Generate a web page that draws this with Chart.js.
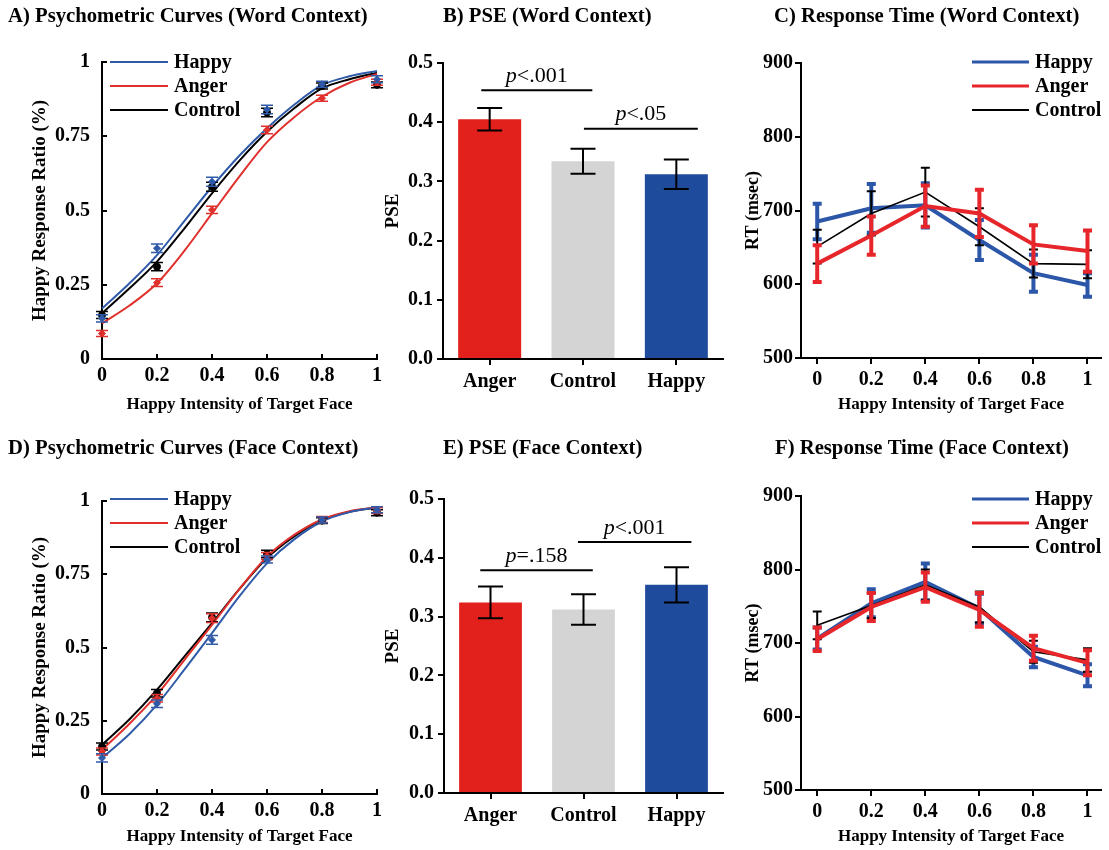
<!DOCTYPE html>
<html><head><meta charset="utf-8">
<script src="https://cdn.jsdelivr.net/npm/chart.js@4.4.0/dist/chart.umd.min.js"></script>
<style>
html,body{margin:0;padding:0;background:#fff;}
#wrap{position:relative;width:1109px;height:850px;overflow:hidden;background:#fff;}
#wrap canvas{position:absolute;left:0;top:0;}
</style></head><body><div id="wrap">
<canvas id="cA" width="1109" height="850"></canvas>
<canvas id="cB" width="1109" height="850"></canvas>
<canvas id="cC" width="1109" height="850"></canvas>
<canvas id="cD" width="1109" height="850"></canvas>
<canvas id="cE" width="1109" height="850"></canvas>
<canvas id="cF" width="1109" height="850"></canvas>
</div>
<script>
// ================= DATA =================
const intensityTicks = [0, 0.2, 0.4, 0.6, 0.8, 1];
const curveGrid = [0, 0.1, 0.2, 0.3, 0.4, 0.5, 0.6, 0.7, 0.8, 0.9, 1];
const ratioTicks = [0, 0.25, 0.5, 0.75, 1];
const pseTicks = [0, 0.1, 0.2, 0.3, 0.4, 0.5];
const rtTicks = [500, 600, 700, 800, 900];
const legendOrder = ['Happy', 'Anger', 'Control'];
const pseCategories = ['Anger', 'Control', 'Happy'];

// A) Psychometric curves, word context: observed means and SEM
const wordHappyObs = [0.137, 0.373, 0.597, 0.840, 0.925, 0.942];
const wordHappySem = [0.012, 0.014, 0.015, 0.014, 0.010, 0.012];
const wordAngerObs = [0.086, 0.257, 0.502, 0.771, 0.878, 0.932];
const wordAngerSem = [0.010, 0.013, 0.012, 0.013, 0.010, 0.010];
const wordControlObs = [0.148, 0.311, 0.580, 0.830, 0.919, 0.923];
const wordControlSem = [0.012, 0.014, 0.015, 0.014, 0.010, 0.010];
// A) fitted curves read at curveGrid
const wordHappyFit = [0.170, 0.255, 0.350, 0.465, 0.580, 0.685, 0.777, 0.857, 0.922, 0.952, 0.970];
const wordAngerFit = [0.120, 0.180, 0.255, 0.365, 0.490, 0.615, 0.730, 0.815, 0.883, 0.930, 0.960];
const wordControlFit = [0.154, 0.238, 0.328, 0.440, 0.558, 0.668, 0.765, 0.845, 0.911, 0.942, 0.964];

// B) PSE, word context
const pseWord = [0.405, 0.334, 0.312];
const pseWordSem = [0.019, 0.021, 0.025];
const pseWordSigFrom = [-0.09, 1.01];
const pseWordSigTo = [1.10, 2.23];
const pseWordSigLevel = [0.454, 0.389];
const pseWordSigText = ['<.001', '<.05'];

// C) Response time, word context
const rtWordHappy = [685, 703, 707, 660, 615, 599];
const rtWordHappySem = [24, 33, 30, 27, 25, 16];
const rtWordAnger = [628, 666, 706, 696, 654, 645];
const rtWordAngerSem = [25, 26, 28, 32, 26, 28];
const rtWordControl = [651, 696, 725, 678, 628, 627];
const rtWordControlSem = [23, 30, 33, 25, 19, 19];

// D) Psychometric curves, face context
const faceHappyObs = [0.123, 0.308, 0.526, 0.800, 0.935, 0.970];
const faceHappySem = [0.014, 0.013, 0.015, 0.012, 0.010, 0.010];
const faceAngerObs = [0.145, 0.327, 0.600, 0.812, 0.937, 0.967];
const faceAngerSem = [0.012, 0.013, 0.015, 0.012, 0.010, 0.010];
const faceControlObs = [0.162, 0.344, 0.603, 0.819, 0.933, 0.960];
const faceControlSem = [0.012, 0.013, 0.015, 0.013, 0.010, 0.010];
const faceHappyFit = [0.123, 0.205, 0.305, 0.425, 0.549, 0.675, 0.787, 0.870, 0.930, 0.962, 0.978];
const faceAngerFit = [0.151, 0.240, 0.339, 0.458, 0.577, 0.700, 0.810, 0.885, 0.937, 0.965, 0.978];
const faceControlFit = [0.168, 0.255, 0.356, 0.470, 0.583, 0.700, 0.805, 0.880, 0.935, 0.963, 0.978];

// E) PSE, face context
const pseFace = [0.324, 0.312, 0.354];
const pseFaceSem = [0.027, 0.026, 0.030];
const pseFaceSigFrom = [-0.11, 0.94];
const pseFaceSigTo = [1.10, 2.16];
const pseFaceSigLevel = [0.379, 0.427];
const pseFaceSigText = ['=.158', '<.001'];

// F) Response time, face context
const rtFaceHappy = [706, 754, 783, 747, 681, 656];
const rtFaceHappySem = [15, 19, 25, 20, 14, 15];
const rtFaceAnger = [705, 749, 776, 745, 693, 673];
const rtFaceAngerSem = [16, 19, 20, 23, 17, 17];
const rtFaceControl = [724, 751, 779, 749, 688, 677];
const rtFaceControlSem = [19, 17, 21, 21, 15, 16];

// ================= STYLE =================
const SERIF = "'Liberation Serif','Times New Roman',serif";
const BLACK = '#000000';
const CURVE_COL = { Happy: '#2f5aa8', Anger: '#e0302c', Control: '#000000' };
const RT_COL = { Happy: '#2c56a8', Anger: '#e6262a', Control: '#000000' };
const BAR_COL = { Anger: '#e3211c', Control: '#d4d4d4', Happy: '#1f4b9c' };
const CW = 1109, CH = 850;

Chart.defaults.font.family = SERIF;

const numFmt = v => String(+Number(v).toFixed(2));
const oneDec = v => Number(v).toFixed(1);

function fixBox(axis, size) {
  return function (s) {
    if (axis === 'y') s.width = size; else s.height = size;
    s.paddingTop = 0; s.paddingBottom = 0; s.paddingLeft = 0; s.paddingRight = 0;
  };
}
function layoutFor(area, yW, xH) {
  return { padding: { left: area.l - yW, top: area.t, right: CW - area.r, bottom: CH - area.b - xH } };
}
function axis(o) {
  const a = {
    type: o.type || 'linear', position: o.pos,
    ticks: { font: { family: SERIF, weight: 'bold', size: 20, lineHeight: 1 }, color: BLACK, padding: o.pad, maxRotation: 0, autoSkip: false },
    grid: { drawOnChartArea: false, drawTicks: true, tickLength: (o.tl === undefined ? 6 : o.tl), color: BLACK, lineWidth: 2, offset: false },
    border: { display: true, color: BLACK, width: 2 },
    title: { display: !!o.title, text: o.title || '', font: { family: SERIF, weight: 'bold', size: o.titleSize || 18, lineHeight: 1 }, color: BLACK, padding: 0 },
    afterFit: fixBox(o.pos === 'left' ? 'y' : 'x', o.size)
  };
  if (a.type === 'linear') {
    a.min = o.min; a.max = o.max;
    a.afterBuildTicks = s => { s.ticks = o.ticks.map(v => ({ value: v })); };
    a.ticks.callback = o.fmt;
  } else {
    a.offset = true;
  }
  return a;
}

// ================= PLUGINS =================
const errorBars = {
  id: 'errorBars',
  afterDatasetDraw(chart, args) {
    const ds = chart.data.datasets[args.index];
    if (!ds.errors) return;
    const meta = args.meta;
    const ys = chart.scales[meta.yAxisID];
    const ctx = chart.ctx;
    ctx.save();
    ctx.strokeStyle = ds.errorColor || ds.borderColor;
    ctx.lineWidth = ds.errorWidth || 1.5;
    ctx.lineCap = 'butt';
    const hw = (ds.capWidth || 10) / 2;
    meta.data.forEach((el, i) => {
      const v = meta.controller.getParsed(i).y;
      const e = ds.errors[i];
      const x = el.x;
      const yT = ys.getPixelForValue(v + e), yB = ys.getPixelForValue(v - e);
      ctx.beginPath();
      ctx.moveTo(x, yT); ctx.lineTo(x, yB);
      ctx.moveTo(x - hw, yT); ctx.lineTo(x + hw, yT);
      ctx.moveTo(x - hw, yB); ctx.lineTo(x + hw, yB);
      ctx.stroke();
    });
    ctx.restore();
  }
};

function titlePlugin(text, x, y) {
  return {
    id: 'panelTitle',
    afterDraw(chart) {
      const c = chart.ctx; c.save();
      c.font = `bold 20.7px ${SERIF}`; c.fillStyle = BLACK;
      c.textAlign = 'left'; c.textBaseline = 'middle';
      c.fillText(text, x, y); c.restore();
    }
  };
}

function legendPlugin(x1, x2, tx, y0, gap) {
  return {
    id: 'lineLegend',
    afterDraw(chart) {
      const c = chart.ctx; c.save();
      legendOrder.forEach((lab, i) => {
        const ds = chart.data.datasets.find(d => d.label === lab && d.inLegend);
        if (!ds) return;
        const y = y0 + i * gap;
        c.strokeStyle = ds.borderColor; c.lineWidth = ds.legendWidth || ds.borderWidth;
        c.beginPath(); c.moveTo(x1, y); c.lineTo(x2, y); c.stroke();
        c.font = `bold 20px ${SERIF}`; c.fillStyle = BLACK;
        c.textAlign = 'left'; c.textBaseline = 'middle';
        c.fillText(lab, tx, y + 1);
      });
      c.restore();
    }
  };
}

function sigPlugin(from, to, level, texts, textOffset) {
  return {
    id: 'sigBrackets',
    afterDatasetsDraw(chart) {
      const c = chart.ctx, xs = chart.scales.x, ys = chart.scales.y;
      c.save();
      from.forEach((f, i) => {
        const x1 = xs.getPixelForValue(f), x2 = xs.getPixelForValue(to[i]);
        const y = ys.getPixelForValue(level[i]);
        c.strokeStyle = BLACK; c.lineWidth = 2;
        c.beginPath(); c.moveTo(x1, y); c.lineTo(x2, y); c.stroke();
        const pf = `italic 22px ${SERIF}`, rf = `22px ${SERIF}`;
        c.font = pf; const wp = c.measureText('p').width;
        c.font = rf; const wr = c.measureText(texts[i]).width;
        let x = (x1 + x2) / 2 - (wp + wr) / 2;
        const ty = y - textOffset;
        c.fillStyle = BLACK; c.textBaseline = 'middle'; c.textAlign = 'left';
        c.font = pf; c.fillText('p', x, ty);
        c.font = rf; c.fillText(texts[i], x + wp, ty);
      });
      c.restore();
    }
  };
}

const baseOpts = {
  responsive: false, animation: false, devicePixelRatio: 1, events: [],
};

// ================= BUILDERS =================
function fitDs(label, ys, color) {
  return { label, inLegend: true, data: curveGrid.map((x, i) => ({ x, y: ys[i] })),
    borderColor: color, backgroundColor: color, borderWidth: 2, pointRadius: 0,
    cubicInterpolationMode: 'monotone', fill: false, clip: false };
}
function obsDs(label, ys, sem, color, style) {
  return { label: label + ' (observed)', data: intensityTicks.map((x, i) => ({ x, y: ys[i] })),
    showLine: false, borderColor: color, backgroundColor: color, pointStyle: style,
    pointRadius: 3.5, pointBorderWidth: 1, errors: sem, errorWidth: 1.5, capWidth: 12, clip: false };
}
function rtDs(label, ys, sem, color, width, errW, order) {
  return { label, inLegend: true, data: intensityTicks.map((x, i) => ({ x, y: ys[i] })),
    borderColor: color, backgroundColor: color, borderWidth: width, pointRadius: 0, tension: 0,
    errors: sem, errorWidth: errW, capWidth: 9, order, clip: false, fill: false,
    legendWidth: width >= 3 ? 3 : 2 };
}

function psychChart(id, area, title, ty, fits, obs, legendY) {
  const yW = 71.5, xH = area.xH;
  return new Chart(document.getElementById(id), {
    type: 'line',
    data: { datasets: [
      obsDs('Happy', obs.h, obs.hs, CURVE_COL.Happy, 'rectRot'),
      obsDs('Anger', obs.a, obs.as, CURVE_COL.Anger, 'rectRot'),
      obsDs('Control', obs.c, obs.cs, CURVE_COL.Control, 'circle'),
      fitDs('Happy', fits.h, CURVE_COL.Happy),
      fitDs('Anger', fits.a, CURVE_COL.Anger),
      fitDs('Control', fits.c, CURVE_COL.Control)
    ] },
    options: Object.assign({}, baseOpts, {
      layout: layoutFor(area, yW, xH),
      plugins: { legend: { display: false }, tooltip: { enabled: false } },
      scales: {
        x: axis({ pos: 'bottom', min: 0, max: 1, ticks: intensityTicks, fmt: numFmt, pad: 12, tl: -5, size: xH, title: 'Happy Intensity of Target Face', titleSize: 17 }),
        y: axis({ pos: 'left', min: 0, max: 1, ticks: ratioTicks, fmt: numFmt, pad: 17, tl: -5, size: yW, title: 'Happy Response Ratio (%)', titleSize: 19 })
      }
    }),
    plugins: [errorBars, titlePlugin(title, 8, ty), legendPlugin(110, 168, 174, legendY, 24)]
  });
}

function pseChart(id, area, title, ty, vals, sem, sig) {
  const yW = area.yW, xH = 50;
  return new Chart(document.getElementById(id), {
    type: 'bar',
    data: { labels: pseCategories, datasets: [{
      label: 'PSE', data: vals, backgroundColor: pseCategories.map(c => BAR_COL[c]),
      borderWidth: 0, barPercentage: 0.675, categoryPercentage: 1,
      errors: sem, errorColor: BLACK, errorWidth: 2, capWidth: 25
    }] },
    options: Object.assign({}, baseOpts, {
      layout: layoutFor(area, yW, xH),
      plugins: { legend: { display: false }, tooltip: { enabled: false } },
      scales: {
        x: axis({ type: 'category', pos: 'bottom', pad: 7, size: xH }),
        y: axis({ pos: 'left', min: 0, max: 0.5, ticks: pseTicks, fmt: oneDec, pad: 4, size: yW, title: 'PSE', titleSize: 19 })
      }
    }),
    plugins: [errorBars, titlePlugin(title, 443, ty), sigPlugin(sig.from, sig.to, sig.level, sig.text, 14)]
  });
}

function rtChart(id, area, title, ty, d, legendY) {
  const yW = 57, xH = area.xH;
  return new Chart(document.getElementById(id), {
    type: 'line',
    data: { datasets: [
      rtDs('Anger', d.a, d.as, RT_COL.Anger, 4, 4, 0),
      rtDs('Control', d.c, d.cs, RT_COL.Control, 1.6, 2, 1),
      rtDs('Happy', d.h, d.hs, RT_COL.Happy, 4, 4, 2)
    ] },
    options: Object.assign({}, baseOpts, {
      layout: layoutFor(area, yW, xH),
      plugins: { legend: { display: false }, tooltip: { enabled: false } },
      scales: {
        x: axis({ pos: 'bottom', min: -0.06, max: 1.05, ticks: intensityTicks, fmt: numFmt, pad: 6, size: xH, title: 'Happy Intensity of Target Face', titleSize: 17 }),
        y: axis({ pos: 'left', min: 500, max: 900, ticks: rtTicks, fmt: numFmt, pad: 2, size: yW, title: 'RT (msec)', titleSize: 18 })
      }
    }),
    plugins: [errorBars, titlePlugin(title, d.tx, ty), legendPlugin(972, 1029, 1035, legendY, 24)]
  });
}

// ================= CHARTS =================
psychChart('cA', { l: 102, t: 62, r: 377, b: 359, xH: 54.5 }, 'A) Psychometric Curves (Word Context)', 17,
  { h: wordHappyFit, a: wordAngerFit, c: wordControlFit },
  { h: wordHappyObs, hs: wordHappySem, a: wordAngerObs, as: wordAngerSem, c: wordControlObs, cs: wordControlSem }, 62);

pseChart('cB', { l: 443, t: 63, r: 723, b: 359, yW: 59.5 }, 'B) PSE (Word Context)', 17, pseWord, pseWordSem,
  { from: pseWordSigFrom, to: pseWordSigTo, level: pseWordSigLevel, text: pseWordSigText });

rtChart('cC', { l: 801, t: 63, r: 1101, b: 358, xH: 55.5 }, 'C) Response Time (Word Context)', 17,
  { h: rtWordHappy, hs: rtWordHappySem, a: rtWordAnger, as: rtWordAngerSem, c: rtWordControl, cs: rtWordControlSem, tx: 774 }, 62);

psychChart('cD', { l: 102, t: 501, r: 377, b: 794, xH: 51 }, 'D) Psychometric Curves (Face Context)', 449,
  { h: faceHappyFit, a: faceAngerFit, c: faceControlFit },
  { h: faceHappyObs, hs: faceHappySem, a: faceAngerObs, as: faceAngerSem, c: faceControlObs, cs: faceControlSem }, 499);

pseChart('cE', { l: 444, t: 499, r: 723, b: 793, yW: 60.5 }, 'E) PSE (Face Context)', 449, pseFace, pseFaceSem,
  { from: pseFaceSigFrom, to: pseFaceSigTo, level: pseFaceSigLevel, text: pseFaceSigText });

rtChart('cF', { l: 801, t: 496, r: 1101, b: 790, xH: 55 }, 'F) Response Time (Face Context)', 449,
  { h: rtFaceHappy, hs: rtFaceHappySem, a: rtFaceAnger, as: rtFaceAngerSem, c: rtFaceControl, cs: rtFaceControlSem, tx: 775 }, 499);
</script>
</body></html>
